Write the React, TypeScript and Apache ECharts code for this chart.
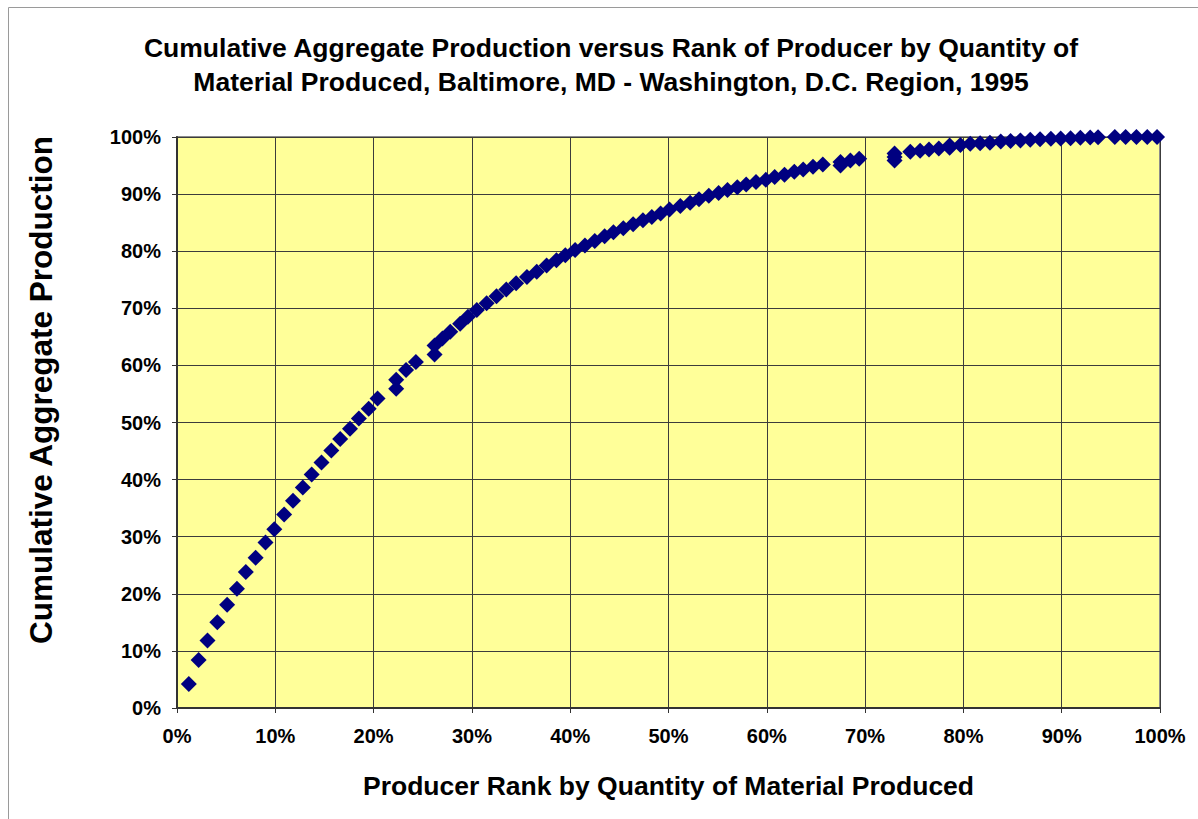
import React, { useEffect, useRef } from "react";
import * as echarts from "echarts";

// Producer rank (percent of producers) and cumulative aggregate production (percent)
const producerRank: number[] = [
  1.2, 2.2, 3.1, 4.1, 5.1, 6.1, 7.0, 8.0, 9.0, 9.9,
  10.9, 11.8, 12.8, 13.7, 14.7, 15.7, 16.6, 17.6, 18.5, 19.5,
  20.4, 22.3, 22.3, 23.3, 24.3, 26.2, 26.2, 27.0, 27.8, 28.8,
  29.6, 30.5, 31.5, 32.5, 33.5, 34.5, 35.6, 36.6, 37.6, 38.6,
  39.5, 40.5, 41.5, 42.5, 43.5, 44.4, 45.4, 46.4, 47.4, 48.3,
  49.2, 50.1, 51.2, 52.2, 53.1, 54.1, 55.1, 56.0, 57.0, 57.9,
  58.9, 59.9, 60.8, 61.8, 62.8, 63.7, 64.7, 65.7, 67.5, 67.5,
  68.5, 69.4, 73.0, 73.0, 73.0, 74.6, 75.6, 76.5, 77.5, 78.6,
  78.6, 79.7, 80.7, 81.7, 82.7, 83.8, 84.8, 85.8, 86.8, 87.8,
  88.9, 89.9, 90.9, 91.9, 92.9, 93.7, 95.4, 96.5, 97.6, 98.7,
  99.7,
];

const cumulativeProduction: number[] = [
  4.2, 8.4, 11.8, 15.0, 18.1, 20.9, 23.8, 26.3, 29.0, 31.3,
  33.9, 36.3, 38.6, 40.9, 43.0, 45.1, 47.1, 48.9, 50.7, 52.4,
  54.2, 55.9, 57.5, 59.2, 60.6, 61.9, 63.5, 64.7, 65.9, 67.3,
  68.5, 69.7, 70.9, 72.1, 73.3, 74.4, 75.5, 76.4, 77.5, 78.4,
  79.3, 80.2, 81.0, 81.8, 82.6, 83.3, 84.0, 84.7, 85.4, 86.0,
  86.6, 87.3, 87.9, 88.5, 89.1, 89.7, 90.2, 90.7, 91.2, 91.7,
  92.1, 92.5, 93.0, 93.4, 93.9, 94.3, 94.8, 95.2, 95.0, 95.6,
  95.9, 96.2, 95.9, 96.5, 97.1, 97.4, 97.6, 97.8, 98.0, 98.1,
  98.5, 98.6, 98.8, 98.9, 99.0, 99.2, 99.3, 99.4, 99.5, 99.6,
  99.7, 99.75, 99.8, 99.85, 99.9, 99.95, 100, 100, 100, 100,
  100,
];

const titleLines: string[] = [
  "Cumulative Aggregate Production versus Rank of Producer by Quantity of",
  "Material Produced, Baltimore, MD - Washington, D.C. Region, 1995",
];
const xAxisTitle = "Producer Rank by Quantity of Material Produced";
const yAxisTitle = "Cumulative Aggregate Production";

const FONT = "'Liberation Sans', Arial, Helvetica, sans-serif";

export default function App() {
  const ref = useRef<HTMLDivElement>(null);

  useEffect(() => {
    if (!ref.current) return;
    const chart = echarts.init(ref.current, undefined, { renderer: "svg" });
    const points = producerRank.map((x, i) => [x, cumulativeProduction[i]]);

    chart.setOption({
      animation: false,
      backgroundColor: "#ffffff",
      textStyle: { fontFamily: FONT },
      graphic: [
        {
          type: "line",
          shape: { x1: 8.5, y1: 7.5, x2: 1198, y2: 7.5 },
          style: { stroke: "#9a9a9a", lineWidth: 1 },
        },
        {
          type: "line",
          shape: { x1: 8.5, y1: 7.5, x2: 8.5, y2: 819 },
          style: { stroke: "#9a9a9a", lineWidth: 1 },
        },
        {
          type: "text",
          x: 611,
          y: 31,
          style: {
            text: titleLines.join("\n"),
            textAlign: "center",
            fontFamily: FONT,
            fontSize: 26.5,
            fontWeight: "bold",
            lineHeight: 34,
            fill: "#000000",
          },
        },
        {
          type: "text",
          x: 41,
          y: 390,
          rotation: Math.PI / 2,
          style: {
            text: yAxisTitle,
            textAlign: "center",
            textVerticalAlign: "middle",
            fontFamily: FONT,
            fontSize: 31.5,
            fontWeight: "bold",
            fill: "#000000",
          },
        },
      ],
      grid: {
        left: 177,
        top: 137,
        right: 38,
        bottom: 111,
        show: true,
        backgroundColor: "#FFFF99",
        borderColor: "#8c8c8c",
        borderWidth: 2,
      },
      xAxis: {
        type: "value",
        min: 0,
        max: 100,
        interval: 10,
        name: xAxisTitle,
        nameLocation: "middle",
        nameGap: 64,
        nameTextStyle: {
          fontFamily: FONT,
          fontSize: 26.5,
          fontWeight: "bold",
          color: "#000000",
        },
        axisLine: { show: true, lineStyle: { color: "#333333", width: 2 } },
        axisTick: { show: true, length: 5, lineStyle: { color: "#333333", width: 1 } },
        axisLabel: {
          formatter: "{value}%",
          fontFamily: FONT,
          fontSize: 20,
          fontWeight: "bold",
          color: "#000000",
          margin: 18,
        },
        splitLine: { show: true, lineStyle: { color: "#3c3c3c", width: 1 } },
      },
      yAxis: {
        type: "value",
        min: 0,
        max: 100,
        interval: 10,
        axisLine: { show: true, lineStyle: { color: "#333333", width: 2 } },
        axisTick: { show: true, length: 5, lineStyle: { color: "#333333", width: 1 } },
        axisLabel: {
          formatter: "{value}%",
          fontFamily: FONT,
          fontSize: 20,
          fontWeight: "bold",
          color: "#000000",
          margin: 16,
        },
        splitLine: { show: true, lineStyle: { color: "#3c3c3c", width: 1 } },
      },
      series: [
        {
          type: "scatter",
          data: points,
          symbol: "diamond",
          symbolSize: 16,
          itemStyle: { color: "#000080", opacity: 1 },
          clip: false,
        },
      ],
    });

    return () => {
      chart.dispose();
    };
  }, []);

  return (
    <div
      ref={ref}
      style={{ position: "absolute", left: 0, top: 0, width: 1198, height: 819 }}
    />
  );
}
